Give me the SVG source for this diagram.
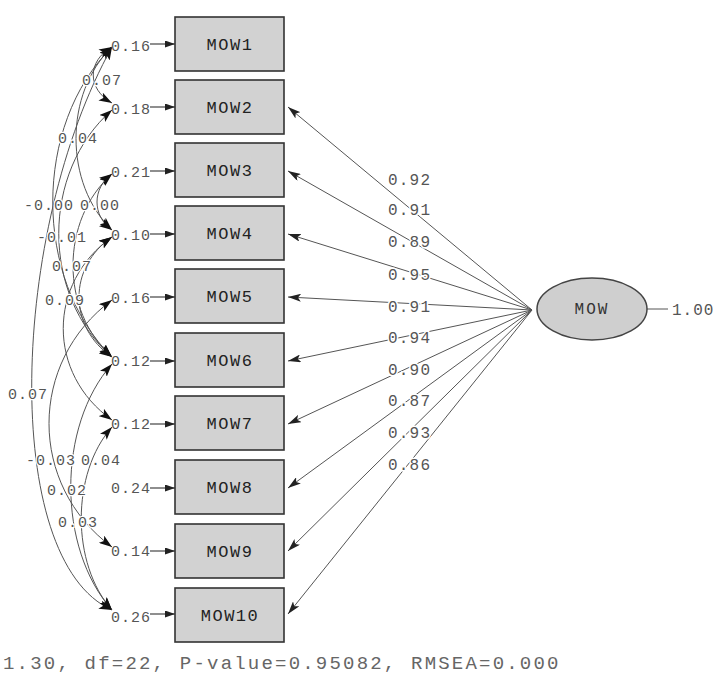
<svg xmlns="http://www.w3.org/2000/svg" width="715" height="677" viewBox="0 0 715 677">
<style>
.box{fill:#d2d2d2;stroke:#333;stroke-width:1.6}
.btxt{font-family:"Liberation Mono",monospace;font-size:17px;letter-spacing:1.5px;fill:#222;text-anchor:middle}
.num{font-family:"Liberation Mono",monospace;font-size:15px;letter-spacing:1px;fill:#555}
.lnum{font-family:"Liberation Mono",monospace;font-size:16px;letter-spacing:1.2px;fill:#555;paint-order:stroke;stroke:#fff;stroke-width:3px}
.cnum{font-family:"Liberation Mono",monospace;font-size:15px;letter-spacing:1px;fill:#555;paint-order:stroke;stroke:#fff;stroke-width:2.5px}
.load{stroke:#555;stroke-width:1;fill:none;marker-end:url(#ah)}
.err{stroke:#444;stroke-width:1.2;fill:none;marker-end:url(#eh)}
.cov{stroke:#555;stroke-width:1;fill:none;marker-start:url(#ch);marker-end:url(#ch)}
.foot{font-family:"Liberation Mono",monospace;font-size:19px;letter-spacing:2.2px;fill:#666}
</style>
<defs>
<marker id="ah" markerUnits="userSpaceOnUse" markerWidth="13" markerHeight="8" refX="13" refY="4" orient="auto"><path d="M0,0 L13,4 L0,8 L3,4 z" fill="#222"/></marker>
<marker id="eh" markerUnits="userSpaceOnUse" markerWidth="10" markerHeight="7" refX="10" refY="3.5" orient="auto"><path d="M0,0 L10,3.5 L0,7 z" fill="#222"/></marker>
<marker id="ch" markerUnits="userSpaceOnUse" markerWidth="13" markerHeight="9" refX="13" refY="4.5" orient="auto-start-reverse"><path d="M0,0 L13,4.5 L0,9 L3,4.5 z" fill="#111"/></marker>
</defs>
<rect width="715" height="677" fill="#fff"/>

<g id="connectors">
<path class="load" d="M532,310 L288,107"/>
<path class="load" d="M532,310 L288,171"/>
<path class="load" d="M532,310 L288,234"/>
<path class="load" d="M532,310 L288,297"/>
<path class="load" d="M532,310 L288,361"/>
<path class="load" d="M532,310 L288,424"/>
<path class="load" d="M532,310 L288,488"/>
<path class="load" d="M532,310 L288,551"/>
<path class="load" d="M532,310 L288,614"/>
<path class="err" d="M150,44 L175,44"/>
<path class="err" d="M150,107 L175,107"/>
<path class="err" d="M150,171 L175,171"/>
<path class="err" d="M150,234 L175,234"/>
<path class="err" d="M150,297 L175,297"/>
<path class="err" d="M150,361 L175,361"/>
<path class="err" d="M150,424 L175,424"/>
<path class="err" d="M150,488 L175,488"/>
<path class="err" d="M150,551 L175,551"/>
<path class="err" d="M150,614 L175,614"/>
<path class="cov" d="M112,47 C87,61 87,89 112,103"/>
<path class="cov" d="M112,47 C64,93 64,184 112,230"/>
<path class="cov" d="M112,47 C33,125 33,279 112,357"/>
<path class="cov" d="M112,174 C92,188 92,216 112,230"/>
<path class="cov" d="M112,110 C41,172 41,295 112,357"/>
<path class="cov" d="M112,174 C60,220 60,311 112,357"/>
<path class="cov" d="M112,237 C68,267 68,327 112,357"/>
<path class="cov" d="M112,47 C10,230 0,560 112,610"/>
<path class="cov" d="M112,300 C28,362 28,485 112,547"/>
<path class="cov" d="M112,364 C57,426 57,548 112,610"/>
<path class="cov" d="M112,237 C47,283 47,374 112,420"/>
<path class="cov" d="M112,427 C71,473 71,564 112,610"/>
<path d="M647,309 L668,309" stroke="#555" stroke-width="1"/>
</g>

<g id="MOW1"><rect class="box" x="175" y="17" width="109" height="54"/><text class="btxt" x="230" y="50">MOW1</text></g>
<g id="MOW2"><rect class="box" x="175" y="80" width="109" height="54"/><text class="btxt" x="230" y="113">MOW2</text></g>
<g id="MOW3"><rect class="box" x="175" y="143" width="109" height="54"/><text class="btxt" x="230" y="176">MOW3</text></g>
<g id="MOW4"><rect class="box" x="175" y="206" width="109" height="54"/><text class="btxt" x="230" y="239">MOW4</text></g>
<g id="MOW5"><rect class="box" x="175" y="269" width="109" height="54"/><text class="btxt" x="230" y="302">MOW5</text></g>
<g id="MOW6"><rect class="box" x="175" y="333" width="109" height="54"/><text class="btxt" x="230" y="366">MOW6</text></g>
<g id="MOW7"><rect class="box" x="175" y="396" width="109" height="54"/><text class="btxt" x="230" y="429">MOW7</text></g>
<g id="MOW8"><rect class="box" x="175" y="460" width="109" height="54"/><text class="btxt" x="230" y="493">MOW8</text></g>
<g id="MOW9"><rect class="box" x="175" y="524" width="109" height="54"/><text class="btxt" x="230" y="557">MOW9</text></g>
<g id="MOW10"><rect class="box" x="175" y="588" width="109" height="54"/><text class="btxt" x="230" y="621">MOW10</text></g>

<g id="MOW">
<ellipse cx="592" cy="309" rx="55" ry="31" fill="#cfcfcf" stroke="#444" stroke-width="1.5"/>
<text x="592" y="314" text-anchor="middle" style="font-family:'Liberation Mono',monospace;font-size:16px;letter-spacing:2px;fill:#333">MOW</text>
<text class="num" x="672" y="315" style="font-size:16px">1.00</text>
</g>

<g id="error-labels">
<text class="num" x="111" y="51">0.16</text>
<text class="num" x="111" y="114">0.18</text>
<text class="num" x="111" y="177">0.21</text>
<text class="num" x="111" y="240">0.10</text>
<text class="num" x="111" y="303">0.16</text>
<text class="num" x="111" y="366">0.12</text>
<text class="num" x="111" y="429">0.12</text>
<text class="num" x="111" y="493">0.24</text>
<text class="num" x="111" y="556">0.14</text>
<text class="num" x="111" y="622">0.26</text>
</g>

<g id="loading-labels">
<text class="lnum" x="388" y="185">0.92</text>
<text class="lnum" x="388" y="215">0.91</text>
<text class="lnum" x="388" y="247">0.89</text>
<text class="lnum" x="388" y="280">0.95</text>
<text class="lnum" x="388" y="312">0.91</text>
<text class="lnum" x="388" y="343">0.94</text>
<text class="lnum" x="388" y="375">0.90</text>
<text class="lnum" x="388" y="406">0.87</text>
<text class="lnum" x="388" y="438">0.93</text>
<text class="lnum" x="388" y="470">0.86</text>
</g>

<g id="covariance-labels">
<text class="cnum" x="82" y="85">0.07</text>
<text class="cnum" x="58" y="143">0.04</text>
<text class="cnum" x="24" y="210">-0.00</text>
<text class="cnum" x="80" y="210">0.00</text>
<text class="cnum" x="37" y="242">-0.01</text>
<text class="cnum" x="52" y="271">0.07</text>
<text class="cnum" x="45" y="305">0.09</text>
<text class="cnum" x="8" y="399">0.07</text>
<text class="cnum" x="26" y="465">-0.03</text>
<text class="cnum" x="81" y="465">0.04</text>
<text class="cnum" x="47" y="495">0.02</text>
<text class="cnum" x="58" y="527">0.03</text>
</g>

<text class="foot" x="3" y="669">1.30, df=22, P-value=0.95082, RMSEA=0.000</text>
</svg>
